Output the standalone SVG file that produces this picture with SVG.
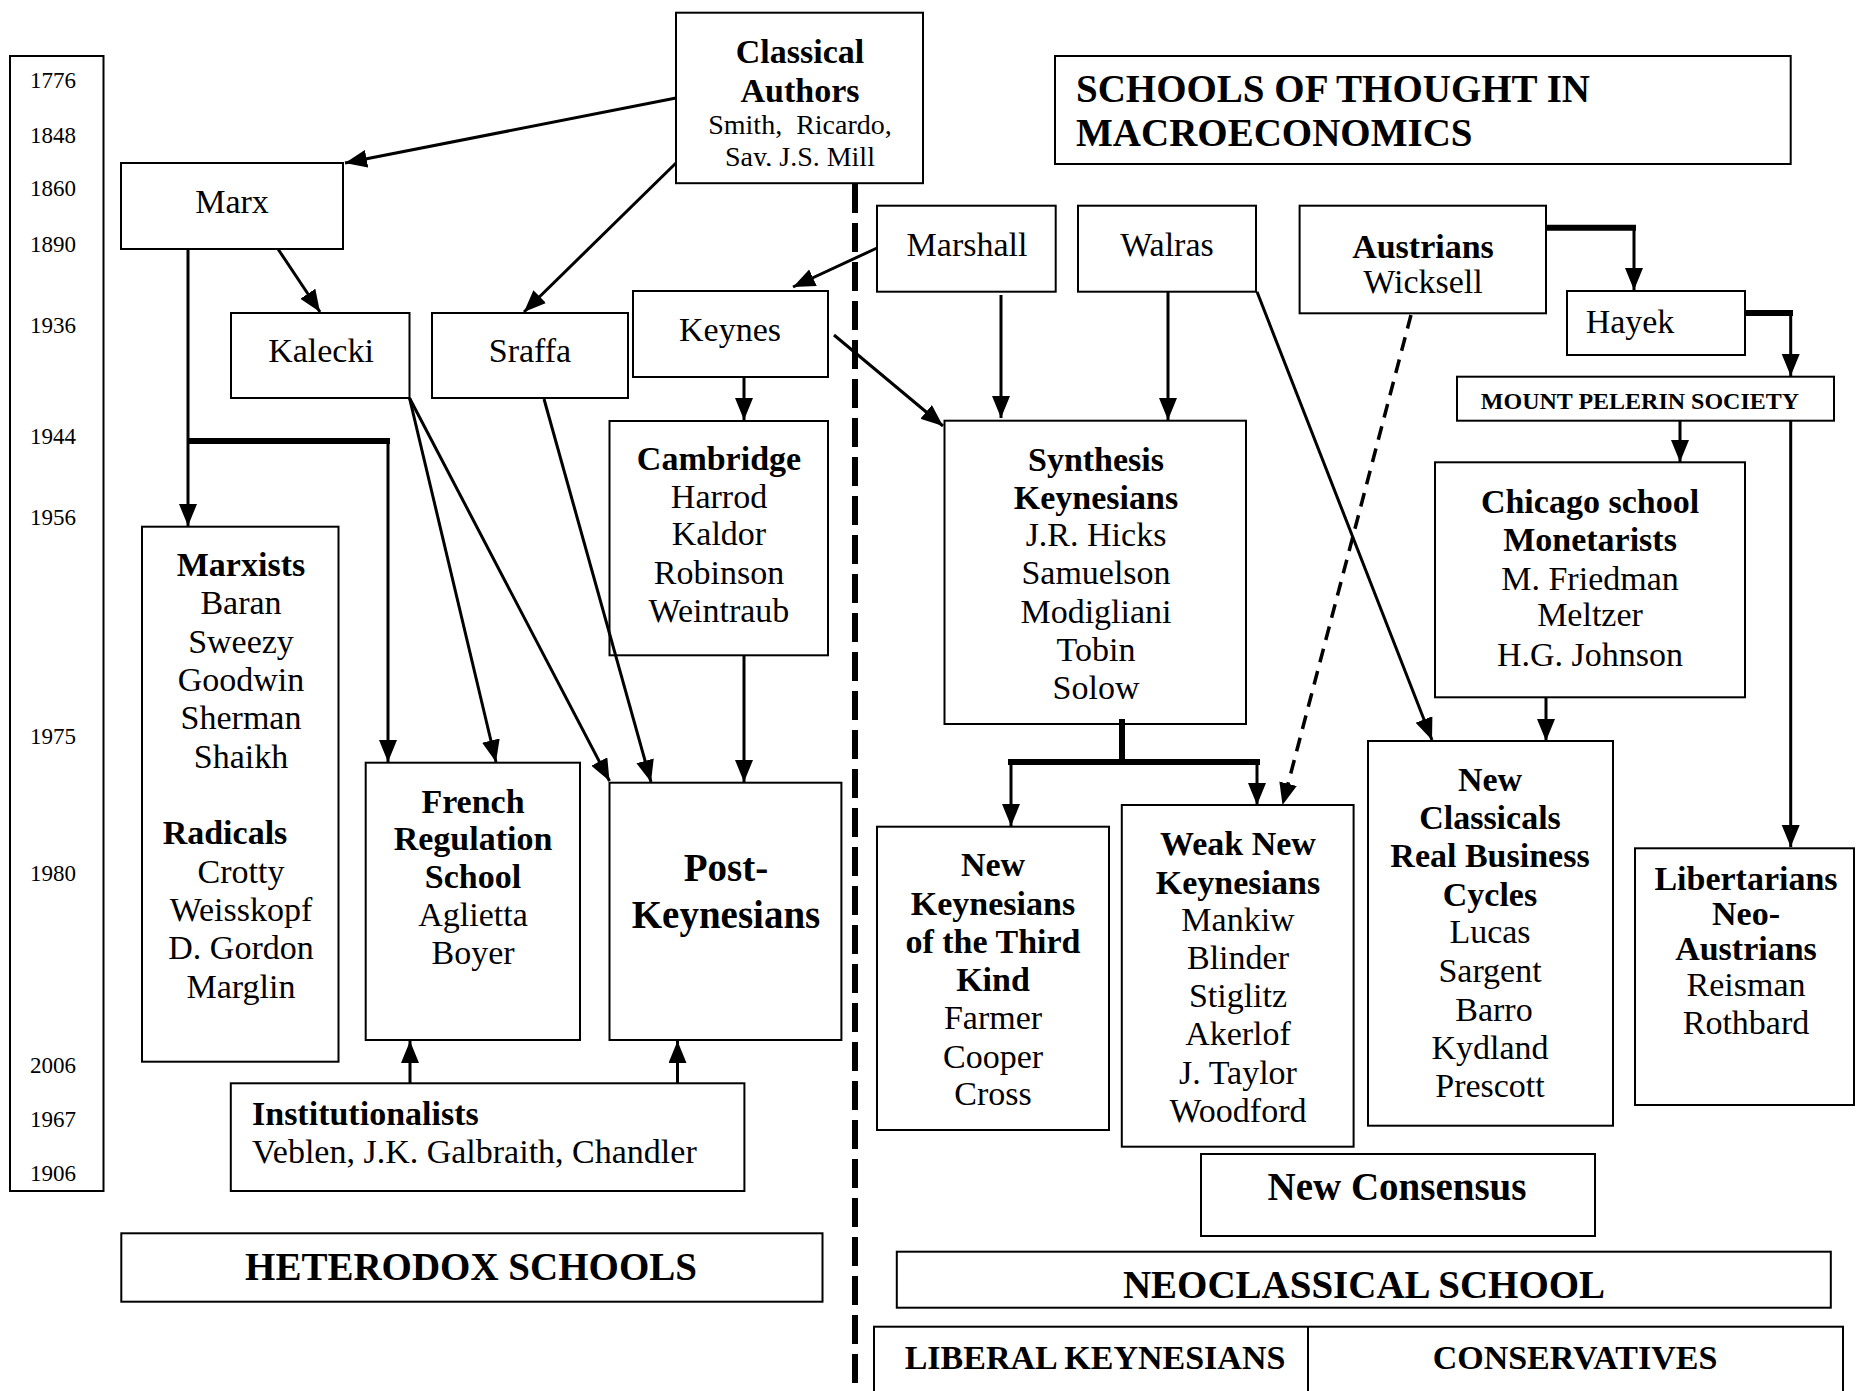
<svg xmlns="http://www.w3.org/2000/svg" width="1856" height="1391" viewBox="0 0 1856 1391">
<style>
.box{fill:none;stroke:#000;stroke-width:2}
.t{font-family:"Liberation Serif","Times New Roman",serif;font-size:34px;text-anchor:middle;fill:#000}
.b{font-weight:bold}
.yr{font-size:23px}
.sm{font-size:28px}
.big{font-size:39px}
.mps{font-size:24px}
.e{fill:none;stroke:#000;stroke-width:3}
.th{fill:none;stroke:#000;stroke-width:6}
.dash{fill:none;stroke:#000;stroke-width:3.5;stroke-dasharray:14 9}
.div{fill:none;stroke:#000;stroke-width:6;stroke-dasharray:29 10}
</style>
<defs>
<marker id="ah" markerUnits="userSpaceOnUse" markerWidth="24" markerHeight="20" refX="22" refY="9" orient="auto"><path d="M0,0 L22,9 L0,18 z" fill="#000"/></marker>
<clipPath id="clipCl"><rect x="676" y="12" width="247" height="154"/></clipPath>
</defs>
<rect width="1856" height="1391" fill="#fff"/>

<g id="timeline">
<rect class="box" x="10" y="56" width="93.5" height="1135"/>
<text class="t yr" x="53" y="88">1776</text>
<text class="t yr" x="53" y="143">1848</text>
<text class="t yr" x="53" y="196">1860</text>
<text class="t yr" x="53" y="252">1890</text>
<text class="t yr" x="53" y="333">1936</text>
<text class="t yr" x="53" y="444">1944</text>
<text class="t yr" x="53" y="525">1956</text>
<text class="t yr" x="53" y="744">1975</text>
<text class="t yr" x="53" y="881">1980</text>
<text class="t yr" x="53" y="1073">2006</text>
<text class="t yr" x="53" y="1127">1967</text>
<text class="t yr" x="53" y="1181">1906</text>
</g>

<g id="divider"><path class="div" d="M855,184 L855,1391"/></g>

<g id="classical">
<rect class="box" x="676" y="12.7" width="247" height="170.5"/>
<text class="t b" x="800" y="63">Classical</text>
<text class="t b" x="800" y="102">Authors</text>
<text class="t sm" x="800" y="134" xml:space="preserve">Smith,  Ricardo,</text>
<text class="t sm" x="800" y="166" clip-path="url(#clipCl)">Say, J.S. Mill</text>
</g>

<g id="title">
<rect class="box" x="1055" y="56" width="735.7" height="108"/>
<text class="t b big" x="1076" y="102" style="text-anchor:start">SCHOOLS OF THOUGHT IN</text>
<text class="t b big" x="1076" y="146" style="text-anchor:start">MACROECONOMICS</text>
</g>

<g id="marx"><rect class="box" x="121" y="163" width="222" height="86"/><text class="t" x="232" y="213">Marx</text></g>
<g id="kalecki"><rect class="box" x="231" y="313" width="178.5" height="85"/><text class="t" x="321" y="362">Kalecki</text></g>
<g id="sraffa"><rect class="box" x="432" y="313" width="196" height="85"/><text class="t" x="530" y="362">Sraffa</text></g>
<g id="keynes"><rect class="box" x="633" y="291" width="195" height="86"/><text class="t" x="730" y="341">Keynes</text></g>
<g id="marshall"><rect class="box" x="877" y="205.7" width="178.7" height="86"/><text class="t" x="967" y="256">Marshall</text></g>
<g id="walras"><rect class="box" x="1078" y="205.7" width="178" height="86"/><text class="t" x="1167" y="256">Walras</text></g>
<g id="austrians"><rect class="box" x="1299.6" y="205.7" width="246.4" height="107.6"/>
<text class="t b" x="1423" y="258">Austrians</text><text class="t" x="1423" y="293">Wicksell</text></g>
<g id="hayek"><rect class="box" x="1567" y="291" width="178" height="64"/><text class="t" x="1630" y="333">Hayek</text></g>
<g id="mps"><rect class="box" x="1457" y="376.7" width="377" height="44"/><text class="t b mps" x="1640" y="409">MOUNT PELERIN SOCIETY</text></g>

<g id="cambridge"><rect class="box" x="609.5" y="421" width="218.5" height="234.3"/>
<text class="t b" x="719" y="470">Cambridge</text>
<text class="t" x="719" y="508">Harrod</text>
<text class="t" x="719" y="545">Kaldor</text>
<text class="t" x="719" y="584">Robinson</text>
<text class="t" x="719" y="622">Weintraub</text>
</g>

<g id="synthesis"><rect class="box" x="944.5" y="420.7" width="301.5" height="303.3"/>
<text class="t b" x="1096" y="471">Synthesis</text>
<text class="t b" x="1096" y="509">Keynesians</text>
<text class="t" x="1096" y="546">J.R. Hicks</text>
<text class="t" x="1096" y="584">Samuelson</text>
<text class="t" x="1096" y="623">Modigliani</text>
<text class="t" x="1096" y="661">Tobin</text>
<text class="t" x="1096" y="699">Solow</text>
</g>

<g id="chicago"><rect class="box" x="1435" y="462.3" width="310" height="235"/>
<text class="t b" x="1590" y="513">Chicago school</text>
<text class="t b" x="1590" y="551">Monetarists</text>
<text class="t" x="1590" y="590">M. Friedman</text>
<text class="t" x="1590" y="626">Meltzer</text>
<text class="t" x="1590" y="666">H.G. Johnson</text>
</g>

<g id="marxists"><rect class="box" x="142" y="526.7" width="196.5" height="535"/>
<text class="t b" x="241" y="576">Marxists</text>
<text class="t" x="241" y="614">Baran</text>
<text class="t" x="241" y="653">Sweezy</text>
<text class="t" x="241" y="691">Goodwin</text>
<text class="t" x="241" y="729">Sherman</text>
<text class="t" x="241" y="768">Shaikh</text>
<text class="t b" x="225" y="844">Radicals</text>
<text class="t" x="241" y="883">Crotty</text>
<text class="t" x="241" y="921">Weisskopf</text>
<text class="t" x="241" y="959">D. Gordon</text>
<text class="t" x="241" y="998">Marglin</text>
</g>

<g id="french"><rect class="box" x="365.7" y="762.7" width="214.3" height="277.3"/>
<text class="t b" x="473" y="813">French</text>
<text class="t b" x="473" y="850">Regulation</text>
<text class="t b" x="473" y="888">School</text>
<text class="t" x="473" y="926">Aglietta</text>
<text class="t" x="473" y="964">Boyer</text>
</g>

<g id="postkeynesians"><rect class="box" x="609.5" y="782.7" width="231.9" height="257.3"/>
<text class="t b big" x="726" y="881">Post-</text>
<text class="t b big" x="726" y="928">Keynesians</text>
</g>

<g id="institutionalists"><rect class="box" x="230.8" y="1083.3" width="513.6" height="107.7"/>
<text class="t b" x="252" y="1125" style="text-anchor:start">Institutionalists</text>
<text class="t" x="252" y="1163" style="text-anchor:start">Veblen, J.K. Galbraith, Chandler</text>
</g>

<g id="heterodox"><rect class="box" x="121.3" y="1233.3" width="701.2" height="68.4"/>
<text class="t b big" x="471" y="1280">HETERODOX SCHOOLS</text></g>

<g id="nk3"><rect class="box" x="877" y="826.7" width="232" height="303.3"/>
<text class="t b" x="993" y="876">New</text>
<text class="t b" x="993" y="915">Keynesians</text>
<text class="t b" x="993" y="953">of the Third</text>
<text class="t b" x="993" y="991">Kind</text>
<text class="t" x="993" y="1029">Farmer</text>
<text class="t" x="993" y="1068">Cooper</text>
<text class="t" x="993" y="1105">Cross</text>
</g>

<g id="weaknk"><rect class="box" x="1121.8" y="805" width="231.8" height="341.7"/>
<text class="t b" x="1238" y="855">Weak New</text>
<text class="t b" x="1238" y="894">Keynesians</text>
<text class="t" x="1238" y="931">Mankiw</text>
<text class="t" x="1238" y="969">Blinder</text>
<text class="t" x="1238" y="1007">Stiglitz</text>
<text class="t" x="1238" y="1045">Akerlof</text>
<text class="t" x="1238" y="1084">J. Taylor</text>
<text class="t" x="1238" y="1122">Woodford</text>
</g>

<g id="newclassicals"><rect class="box" x="1368" y="741" width="245" height="384.7"/>
<text class="t b" x="1490" y="791">New</text>
<text class="t b" x="1490" y="829">Classicals</text>
<text class="t b" x="1490" y="867">Real Business</text>
<text class="t b" x="1490" y="906">Cycles</text>
<text class="t" x="1490" y="943">Lucas</text>
<text class="t" x="1490" y="982">Sargent</text>
<text class="t" x="1494" y="1021">Barro</text>
<text class="t" x="1490" y="1059">Kydland</text>
<text class="t" x="1490" y="1097">Prescott</text>
</g>

<g id="libertarians"><rect class="box" x="1635" y="848.3" width="219" height="256.7"/>
<text class="t b" x="1746" y="890">Libertarians</text>
<text class="t b" x="1746" y="925">Neo-</text>
<text class="t b" x="1746" y="960">Austrians</text>
<text class="t" x="1746" y="996">Reisman</text>
<text class="t" x="1746" y="1034">Rothbard</text>
</g>

<g id="newconsensus"><rect class="box" x="1201" y="1154" width="394" height="82"/>
<text class="t b big" x="1397" y="1200">New Consensus</text></g>

<g id="neoclassical"><rect class="box" x="896.8" y="1251.7" width="934" height="56"/>
<text class="t b big" x="1364" y="1298">NEOCLASSICAL SCHOOL</text></g>

<g id="bottom"><rect class="box" x="874" y="1326.7" width="969" height="80"/>
<path class="box" d="M1308,1326.7 L1308,1391"/>
<text class="t b" x="1095" y="1369">LIBERAL KEYNESIANS</text>
<text class="t b" x="1575" y="1369">CONSERVATIVES</text>
</g>

<g id="connectors">
<path class="e" marker-end="url(#ah)" d="M676,98 L345,163"/>
<path class="e" marker-end="url(#ah)" d="M676,163 L524,312"/>
<path class="e" marker-end="url(#ah)" d="M278,249 L320,312"/>
<path class="e" marker-end="url(#ah)" d="M188,249 L188,526"/>
<path class="th" d="M188,441 L390,441"/>
<path class="e" marker-end="url(#ah)" d="M388,441 L388,762"/>
<path class="e" marker-end="url(#ah)" d="M409.5,398 L496,762"/>
<path class="e" marker-end="url(#ah)" d="M409.5,398 L609.5,781"/>
<path class="e" marker-end="url(#ah)" d="M544,399 L651,782"/>
<path class="e" marker-end="url(#ah)" d="M744,377 L744,420"/>
<path class="e" marker-end="url(#ah)" d="M744,655 L744,782"/>
<path class="e" marker-end="url(#ah)" d="M877,248 L793,287"/>
<path class="e" marker-end="url(#ah)" d="M834,335 L943,426"/>
<path class="e" marker-end="url(#ah)" d="M1001,295 L1001,418"/>
<path class="e" marker-end="url(#ah)" d="M1168,291.7 L1168,420"/>
<path class="e" marker-end="url(#ah)" d="M1257,291.7 L1432,740"/>
<path class="dash" marker-end="url(#ah)" d="M1411,315 L1282.5,805"/>
<path class="th" d="M1546,227.7 L1636,227.7"/>
<path class="e" marker-end="url(#ah)" d="M1634,227.7 L1634,290"/>
<path class="th" d="M1745,313 L1793,313"/>
<path class="e" marker-end="url(#ah)" d="M1790.7,313 L1790.7,376"/>
<path class="e" marker-end="url(#ah)" d="M1680,420.7 L1680,462"/>
<path class="e" marker-end="url(#ah)" d="M1790.7,420.7 L1790.7,847"/>
<path class="e" marker-end="url(#ah)" d="M1546,697 L1546,741"/>
<path class="th" d="M1122,719 L1122,762 M1008,762 L1260,762"/>
<path class="e" marker-end="url(#ah)" d="M1011,762 L1011,826"/>
<path class="e" marker-end="url(#ah)" d="M1257,762 L1257,805"/>
<path class="e" marker-end="url(#ah)" d="M410,1083 L410,1041"/>
<path class="e" marker-end="url(#ah)" d="M677.5,1083 L677.5,1041"/>
</g>
</svg>
